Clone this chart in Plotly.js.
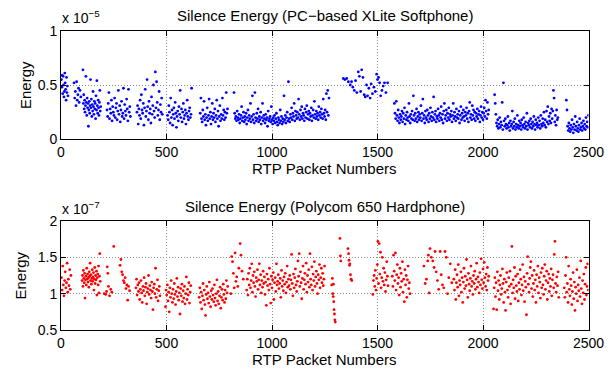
<!DOCTYPE html>
<html>
<head>
<meta charset="utf-8">
<script src="https://cdn.plot.ly/plotly-3.0.1.min.js"></script>
<style>html,body{margin:0;padding:0;background:#fff;}#chart{width:613px;height:371px;}</style>
</head>
<body>
<div id="chart"></div>
<script>
// ---- Data ----
// Softphone: RTP packet numbers and silence energy (in units of 1e-5)
const softX = [
2,4,6,8,10,12,14,16,18,20,22,24,26,28,30,33,
62,65,68,71,74,77,80,83,86,90,94,
104,106,108,110,112,114,116,118,120,122,124,126,128,130,132,134,136,138,140,142,144,146,148,150,152,154,156,158,160,162,164,166,168,170,172,174,176,178,180,182,184,186,188,
218,221,224,227,230,233,236,239,242,245,248,251,254,257,260,263,266,269,272,275,278,281,284,287,290,293,296,299,302,305,308,311,314,317,320,323,326,329,
360,363,366,369,372,375,378,381,384,387,390,393,396,399,402,405,408,411,414,417,420,423,426,429,432,435,438,441,444,447,450,453,456,459,462,465,468,471,474,477,480,
505,508,511,514,517,520,523,526,529,532,535,538,541,544,547,550,553,556,559,562,565,568,571,574,577,580,583,586,589,592,595,598,601,604,607,610,613,616,619,
660,663,666,669,672,675,678,681,684,687,690,693,696,699,702,705,708,711,714,717,720,723,726,729,732,735,738,741,744,747,750,753,756,759,762,765,768,771,774,777,780,783,786,789,
820,823,826,829,832,835,838,841,844,847,850,853,856,859,862,865,868,871,874,877,
880,883,886,889,892,895,898,901,904,907,910,913,916,919,922,925,928,931,934,937,
940,943,946,949,952,955,958,961,964,967,970,973,976,979,982,985,988,991,994,997,
1000,1003,1006,1009,1012,1015,1018,1021,1024,1027,1030,1033,1036,1039,1042,1045,1048,1051,1054,1057,
1060,1063,1066,1069,1072,1075,1078,1081,1084,1087,1090,1093,1096,1099,1102,1105,1108,1111,1114,1117,
1120,1123,1126,1129,1132,1135,1138,1141,1144,1147,1150,1153,1156,1159,1162,1165,1168,1171,1174,1177,
1180,1183,1186,1189,1192,1195,1198,1201,1204,1207,1210,1213,1216,1219,1222,1225,1228,1231,1234,1237,
1240,1243,1246,1249,1252,1255,1258,1261,1264,1267,1270,
1338,1345,1354,1362,1371,1377,1383,1390,1396,1402,1409,1414,1420,1425,1431,1437,1442,1448,1453,1459,1465,1470,1476,1483,1490,1496,1500,1505,1510,1515,1521,1527,1533,1540,1548,
1580,1583,1586,1589,1592,1595,1598,1601,1604,1607,1610,1613,1616,1619,1622,1625,1628,1631,1634,1637,
1640,1643,1646,1649,1652,1655,1658,1661,1664,1667,1670,1673,1676,1679,1682,1685,1688,1691,1694,1697,
1700,1703,1706,1709,1712,1715,1718,1721,1724,1727,1730,1733,1736,1739,1742,1745,1748,1751,1754,1757,
1760,1763,1766,1769,1772,1775,1778,1781,1784,1787,1790,1793,1796,1799,1802,1805,1808,1811,1814,1817,
1820,1823,1826,1829,1832,1835,1838,1841,1844,1847,1850,1853,1856,1859,1862,1865,1868,1871,1874,1877,
1880,1883,1886,1889,1892,1895,1898,1901,1904,1907,1910,1913,1916,1919,1922,1925,1928,1931,1934,1937,
1940,1943,1946,1949,1952,1955,1958,1961,1964,1967,1970,1973,1976,1979,1982,1985,1988,1991,1994,1997,
2000,2003,2006,2009,2012,2015,2018,2021,2024,2027,
2055,2058,2061,2064,2067,2070,2073,2076,2079,2082,2085,2088,2091,2094,2097,2100,2103,2106,2109,2112,
2115,2118,2121,2124,2127,2130,2133,2136,2139,2142,2145,2148,2151,2154,2157,2160,2163,2166,2169,2172,
2175,2178,2181,2184,2187,2190,2193,2196,2199,2202,2205,2208,2211,2214,2217,2220,2223,2226,2229,2232,
2235,2238,2241,2244,2247,2250,2253,2256,2259,2262,2265,2268,2271,2274,2277,2280,2283,2286,2289,2292,
2295,2298,2301,2304,2307,2310,2313,2316,2319,2322,2325,2328,2331,2334,2337,2340,2343,2346,2349,2352,2355,
2395,2398,2401,2404,2407,2410,2413,2416,2419,2422,2425,2428,2431,2434,2437,2440,2443,2446,2449,2452,2455,2458,2461,2464,2467,2470,2473,2476,2479,2482,2485,2488,2491,2494,2497,2500
];
const softY = [
.55,.48,.59,.42,.58,.50,.39,.44,.61,.52,.46,.36,.57,.43,.49,.40,
.52,.38,.44,.31,.53,.36,.41,.47,.34,.45,.39,
.64,.33,.41,.28,.36,.25,.31,.58,.34,.22,.38,.29,.33,.12,.27,.35,.24,.31,.55,.29,.37,.21,.32,.26,.44,.30,.23,.35,.28,.33,.19,.40,.27,.54,.31,.24,.36,.29,.22,.34,.45,.26,.30,
.27,.21,.33,.43,.19,.28,.24,.36,.17,.30,.25,.22,.38,.20,.29,.33,.18,.26,.45,.23,.31,.16,.27,.35,.21,.24,.47,.19,.32,.26,.22,.37,.28,.17,.46,.25,.30,.21,
.25,.31,.14,.28,.22,.36,.19,.41,.27,.24,.33,.13,.29,.46,.21,.26,.55,.30,.18,.35,.24,.28,.15,.39,.23,.31,.50,.26,.20,.62,.29,.53,.34,.22,.27,.44,.18,.32,.25,.38,.23,
.22,.18,.31,.25,.15,.38,.20,.27,.13,.23,.29,.19,.34,.24,.11,.21,.26,.17,.30,.23,.45,.20,.28,.16,.25,.33,.19,.22,.27,.14,.24,.36,.21,.18,.26,.29,.20,.23,.47,
.24,.38,.19,.16,.27,.21,.35,.18,.23,.13,.20,.29,.17,.22,.37,.19,.25,.14,.21,.33,.18,.24,.20,.28,.16,.22,.36,.19,.26,.12,.21,.31,.17,.23,.19,.38,.22,.27,.18,.25,.20,.43,.24,.28,
.43,.24,.19,.21,.17,.26,.20,.18,.23,.15,.19,.22,.30,.17,.20,.25,.16,.21,.18,.24,
.14,.20,.27,.17,.22,.19,.33,.16,.21,.40,.18,.23,.15,.43,.20,.17,.24,.19,.28,.16,
.21,.18,.25,.14,.20,.33,.17,.22,.19,.15,.23,.18,.20,.12,.26,.17,.19,.21,.16,.30,
.18,.14,.20,.17,.22,.15,.19,.24,.16,.13,.20,.18,.15,.27,.17,.21,.14,.19,.16,.40,
.18,.22,.15,.20,.25,.17,.53,.19,.16,.23,.20,.29,.18,.24,.21,.33,.17,.26,.22,.19,
.25,.20,.37,.23,.18,.27,.21,.30,.19,.24,.22,.17,.28,.20,.25,.31,.19,.23,.26,.18,
.24,.21,.29,.17,.22,.27,.20,.35,.23,.19,.26,.21,.24,.18,.30,.22,.25,.20,.28,.23,
.19,.37,.24,.21,.27,.18,.42,.25,.45,.22,.38,
.56,.55,.56,.53,.50,.53,.48,.45,.54,.43,.62,.58,.44,.64,.57,.41,.39,.50,.40,.47,.38,.51,.42,.48,.44,.60,.55,.57,.52,.40,.45,.49,.52,.43,.52,
.33,.24,.19,.35,.22,.17,.27,.20,.15,.23,.18,.21,.26,.16,.24,.19,.29,.14,.22,.18,
.25,.20,.17,.33,.21,.15,.23,.19,.26,.18,.40,.22,.17,.24,.19,.28,.16,.21,.25,.18,
.23,.20,.31,.17,.24,.37,.19,.22,.15,.26,.20,.18,.27,.22,.16,.24,.19,.29,.21,.17,
.25,.20,.39,.18,.23,.26,.16,.21,.19,.28,.22,.17,.24,.20,.30,.18,.23,.15,.26,.33,
.19,.22,.27,.17,.24,.20,.29,.18,.23,.21,.26,.16,.22,.33,.19,.25,.21,.17,.28,.20,
.23,.19,.26,.15,.22,.30,.18,.24,.20,.27,.21,.17,.25,.22,.29,.19,.24,.16,.26,.34,
.20,.23,.18,.31,.22,.27,.19,.25,.17,.24,.21,.28,.19,.23,.26,.16,.22,.30,.20,.25,
.18,.24,.29,.21,.36,.26,.19,.34,.23,.27,
.41,.33,.23,.15,.12,.18,.10,.14,.20,.11,.16,.13,.34,.09,.52,.17,.12,.19,.14,.10,
.13,.21,.11,.15,.08,.17,.12,.14,.26,.10,.16,.12,.19,.09,.14,.11,.22,.13,.10,.17,
.12,.15,.09,.18,.13,.11,.20,.14,.10,.16,.12,.24,.09,.15,.13,.17,.11,.19,.14,.10,
.16,.12,.21,.14,.09,.18,.13,.15,.11,.20,.13,.17,.10,.22,.14,.12,.19,.15,.25,.13,
.18,.11,.26,.16,.30,.14,.21,.17,.24,.15,.28,.19,.26,.45,.38,.16,.22,.13,.27,.18,.20,
.36,.27,.12,.08,.15,.10,.07,.13,.09,.18,.11,.06,.14,.09,.21,.12,.08,.16,.10,.07,.13,.19,.09,.11,.15,.08,.12,.17,.10,.14,.09,.20,.12,.16,.11,.22
];
// Hardphone: RTP packet numbers and silence energy (in units of 1e-7)
const hardX = [
2,5,8,11,14,17,20,23,26,29,32,35,38,41,44,47,
100,102,104,106,108,110,112,114,116,118,120,122,124,126,128,130,132,134,136,138,140,142,144,146,148,150,152,154,156,158,160,162,164,166,168,170,172,174,176,178,180,182,184,186,
205,212,216,219,222,225,230,236,241,250,
280,284,288,292,296,300,304,308,312,316,320,325,
355,358,361,364,367,370,373,376,379,382,385,388,391,394,397,400,403,406,409,412,415,418,421,424,427,430,433,436,439,442,445,448,451,454,457,460,463,466,469,
495,498,501,504,507,510,513,516,519,522,525,528,531,534,537,540,543,546,549,552,555,558,561,564,567,570,573,576,579,582,585,588,591,594,597,600,603,606,609,612,615,
655,658,661,664,667,670,673,676,679,682,685,688,691,694,697,700,703,706,709,712,715,718,721,724,727,730,733,736,739,742,745,748,751,754,757,760,763,766,769,772,775,778,781,784,787,790,
805,809,813,817,821,825,829,833,838,843,849,853,858,864,
880,883,886,889,892,895,898,901,904,907,910,913,916,919,922,925,928,931,934,937,
940,943,946,949,952,955,958,961,964,967,970,973,976,979,982,985,988,991,994,997,
1000,1003,1006,1009,1012,1015,1018,1021,1024,1027,1030,1033,1036,1039,1042,1045,1048,1051,1054,1057,
1060,1063,1066,1069,1072,1075,1078,1081,1084,1087,1090,1093,1096,1099,1102,1105,1108,1111,1114,1117,
1120,1123,1126,1129,1132,1135,1138,1141,1144,1147,1150,1153,1156,1159,1162,1165,1168,1171,1174,1177,
1180,1183,1186,1189,1192,1195,1198,1201,1204,1207,1210,1213,1216,1219,1222,1225,1228,1231,1234,1237,
1240,1243,1246,1249,
1283,1286,1288,1290,1291,1293,1294,1296,1298,1300,
1322,1324,1326,1360,1363,1365,1367,1369,1372,1375,1378,
1478,1481,1484,1487,1490,1493,1496,1499,1502,1505,1508,1511,1514,1517,1520,1523,1526,1529,1532,1535,1538,1541,1544,1547,1550,
1570,1573,1576,1579,1582,1585,1588,1591,1594,1597,1600,1603,1606,1609,1612,1615,1618,1621,1624,1627,1630,1633,1636,1639,1642,1645,1648,1651,1654,
1720,1726,1732,1738,1741,1745,1749,1755,1762,1768,1773,1778,1784,1790,1797,1802,1808,1814,1820,1826,1832,1838,1845,1852,
1862,1865,1868,1871,1874,1877,1880,1883,1886,1889,1892,1895,1898,1901,1904,1907,1910,1913,1916,1919,1922,1925,1928,1931,1934,1937,
1940,1943,1946,1949,1952,1955,1958,1961,1964,1967,1970,1973,1976,1979,1982,1985,1988,1991,1994,1997,2000,2003,2006,2009,2012,2015,2018,2021,2024,2027,
2050,2053,2056,2059,2062,2065,2068,2071,2074,2077,2080,2083,2086,2089,2092,2095,2098,2101,2104,2107,
2110,2113,2116,2119,2122,2125,2128,2131,2134,2137,2140,2143,2146,2149,2152,2155,2158,2161,2164,2167,
2170,2173,2176,2179,2182,2185,2188,2191,2194,2197,2200,2203,2206,2209,2212,2215,2218,2221,2224,2227,
2230,2233,2236,2239,2242,2245,2248,2251,2254,2257,2260,2263,2266,2269,2272,2275,2278,2281,2284,2287,
2290,2293,2296,2299,2302,2305,2308,2311,2314,2317,2320,2323,2326,2329,2332,2335,2338,2341,2344,2347,
2350,2353,2356,2359,
2385,2388,2391,2394,2397,2400,2403,2406,2409,2412,2415,2418,2421,2424,2427,2430,2433,2436,2439,2442,2445,2448,2451,2454,2457,2460,2463,2466,2469,2472,2475,2478,2481,2484,2487,2490,2493,2496,2499
];
const hardY = [
1.22,1.05,1.38,1.12,.97,1.18,1.30,1.08,1.15,1.42,1.02,1.20,1.11,1.33,1.06,1.25,
1.18,1.25,1.10,1.32,1.21,1.15,1.28,.94,1.19,1.24,1.12,1.35,1.20,1.27,1.16,1.22,1.09,1.30,1.24,1.42,1.18,1.26,1.13,1.21,1.33,1.17,1.23,1.29,1.05,1.20,1.36,1.14,1.25,1.19,1.31,.98,1.22,1.27,1.12,1.38,1.01,1.24,1.55,1.17,
1.00,.99,1.03,1.37,1.28,1.10,.97,1.06,1.02,1.65,
1.39,1.47,1.30,1.26,1.18,1.15,1.22,1.07,1.12,.91,1.10,1.04,
1.08,1.20,.98,1.12,1.03,1.15,.92,1.06,1.18,1.01,.88,1.10,1.04,1.22,.97,1.09,1.14,.86,1.02,1.07,1.25,.99,1.11,1.05,.94,1.16,1.03,.78,1.08,1.13,1.00,1.35,.95,1.06,1.19,.90,1.04,1.10,.97,
.82,1.05,.98,1.12,.90,1.02,.75,1.08,.95,1.18,1.00,.88,1.06,.93,1.14,.99,.85,1.03,1.21,.96,1.09,.91,1.01,.72,1.07,.97,1.13,.89,1.04,.94,1.10,.86,1.00,1.23,.92,1.06,.98,1.15,.87,1.02,1.11,
.95,1.08,.88,1.02,.79,.97,1.14,.91,1.05,.85,.70,.99,1.10,.93,1.01,.87,1.16,.96,.82,1.04,.92,1.07,.98,.89,1.12,.94,.84,1.00,1.19,.90,1.03,.86,.97,1.09,.80,.95,1.06,.91,1.13,.99,.88,1.05,.93,1.18,1.01,1.10,
1.00,1.51,1.44,1.28,1.08,1.56,1.17,1.23,1.10,1.35,1.69,1.53,1.31,1.20,
1.05,1.20,.98,1.28,1.12,1.35,1.08,1.18,1.41,1.02,1.25,1.15,1.30,1.10,.96,1.22,1.17,1.33,1.06,1.19,
1.41,1.12,1.26,1.01,1.18,1.09,1.31,1.14,1.23,.99,1.16,.84,1.27,1.11,1.20,1.05,1.35,1.13,.87,1.24,
1.08,1.19,1.29,.92,1.15,1.22,1.03,1.41,1.12,1.17,1.26,1.07,1.14,1.21,.95,1.32,1.10,1.18,1.04,1.23,
1.13,1.28,1.01,1.16,1.38,1.09,1.20,1.11,1.25,1.06,1.19,1.54,1.14,.97,1.27,1.08,1.22,1.34,1.12,1.03,
1.17,1.45,1.24,1.55,1.10,1.30,1.15,.93,1.21,1.38,1.06,1.19,1.28,1.13,1.42,1.02,1.25,1.16,1.33,1.09,
1.55,1.20,1.12,1.37,1.05,1.27,1.18,1.44,1.10,1.23,1.31,1.14,1.00,1.26,1.19,1.40,1.08,1.22,1.35,1.15,
1.28,1.11,1.20,1.38,
1.12,1.21,1.00,.96,1.13,.89,.78,.72,.64,.61,
1.76,1.52,1.45,1.62,1.55,1.46,1.39,1.41,1.26,1.20,1.18,
.99,1.18,1.25,1.10,1.32,1.05,1.21,1.40,1.72,1.14,1.69,1.27,1.57,1.08,1.22,1.50,1.17,1.35,1.12,1.29,1.03,1.19,1.44,1.24,1.11,
1.24,1.10,1.53,1.31,1.18,1.56,1.05,1.26,1.40,1.14,1.22,.98,1.35,1.09,1.28,1.17,1.44,1.02,1.20,.89,1.33,1.12,1.25,.95,1.19,1.38,1.07,1.15,1.00,
1.38,1.14,1.20,1.45,1.53,1.01,1.62,1.50,1.45,1.36,1.58,1.30,1.18,1.06,1.58,1.26,1.12,1.08,1.58,1.50,1.00,1.22,1.41,1.15,
1.20,1.05,1.33,.92,1.15,1.26,1.09,1.40,.97,1.18,1.12,1.30,1.02,1.22,.88,1.16,1.35,1.07,1.24,1.11,1.47,1.19,.95,1.28,1.13,1.04,
1.21,1.38,1.10,1.17,.99,1.25,1.14,1.31,1.06,1.20,1.42,1.09,1.23,1.16,1.01,1.29,1.12,1.48,1.19,1.07,1.34,1.15,1.43,1.22,1.10,1.27,1.05,1.36,1.18,1.24,
.79,1.08,1.22,.96,1.15,.78,1.30,1.04,1.18,.92,1.12,1.25,.99,1.07,1.34,1.14,.88,1.20,1.02,.77,
1.16,1.29,1.05,.95,1.22,1.10,1.31,.86,1.13,1.65,1.01,1.19,1.08,1.36,.93,1.24,1.11,1.03,1.27,.90,
1.15,1.06,1.33,1.20,.98,1.12,1.40,1.04,1.23,.89,1.17,1.09,.71,1.28,1.51,1.13,1.02,1.21,1.36,1.44,
1.07,1.25,.96,1.14,1.32,1.05,1.19,.88,1.26,1.10,1.38,1.01,1.22,1.16,.94,1.29,1.08,1.35,1.12,.99,
1.24,1.40,1.06,1.18,1.31,.92,1.15,1.27,1.03,1.21,1.10,1.34,.97,1.19,1.26,1.08,1.54,1.72,1.14,1.02,
1.23,1.11,1.30,.95,
1.08,.95,1.25,1.50,1.02,1.14,.88,1.38,1.06,.97,1.20,1.11,.85,1.03,1.29,.93,1.16,.77,1.09,1.00,1.33,.90,1.12,1.04,1.22,.96,1.45,1.07,.86,1.18,1.01,1.27,.92,1.13,1.36,.98,1.10,1.41,1.05
];
const xTicks = [0, 500, 1000, 1500, 2000, 2500];
const softYTicks = [0, 0.5, 1];
const hardYTicks = [0.5, 1, 1.5, 2];
const plotTitles = ['Silence Energy (PC\u2212based XLite Softphone)', 'Silence Energy (Polycom 650 Hardphone)'];
const xLabel = 'RTP Packet Numbers';
const yLabel = 'Energy';
const exponents = ['\u22125', '\u22127'];

// ---- Layout ----
const W = 613, H = 371;
const FONT = 'Liberation Sans, Arial, Helvetica, sans-serif';
const px = v => v / W;
const py = v => 1 - v / H;

function axisBase() {
  return {
    ticks: 'inside', ticklen: 5, tickcolor: '#000', tickwidth: 1,
    showline: true, linecolor: '#000', linewidth: 1, mirror: 'ticks',
    showgrid: true, gridcolor: '#8c8c8c', griddash: '1px,2px', gridwidth: 1,
    zeroline: false, tickfont: {family: FONT, size: 14, color: '#000'}, automargin: false
  };
}
function xAxis(anchor, dom) {
  return Object.assign(axisBase(), {domain: dom, anchor: anchor, range: [0, 2500], tickvals: xTicks});
}
function yAxis(anchor, dom, rng, tv) {
  return Object.assign(axisBase(), {domain: dom, anchor: anchor, range: rng, tickvals: tv});
}

const xDom = [px(61), px(588.5)];
const topDom = [py(139.3), py(30.7)];
const botDom = [py(330), py(221)];

const traces = [
  {x: softX, y: softY, type: 'scatter', mode: 'markers', xaxis: 'x', yaxis: 'y',
   marker: {color: '#0000ff', size: 2.8, line: {width: 0}}, hoverinfo: 'skip'},
  {x: hardX, y: hardY, type: 'scatter', mode: 'markers', xaxis: 'x2', yaxis: 'y2',
   marker: {color: '#ff0000', size: 2.8, line: {width: 0}}, hoverinfo: 'skip'}
];

function ann(text, x, y, opts) {
  return Object.assign({text: text, x: x, y: y, xref: 'paper', yref: 'paper', showarrow: false,
    xanchor: 'center', yanchor: 'middle', font: {family: FONT, size: 15, color: '#000'}}, opts || {});
}

const layout = {
  width: W, height: H, margin: {l: 0, r: 0, t: 0, b: 0}, showlegend: false,
  paper_bgcolor: '#fff', plot_bgcolor: '#fff',
  xaxis: xAxis('y', xDom), yaxis: yAxis('x', topDom, [0, 1], softYTicks),
  xaxis2: xAxis('y2', xDom), yaxis2: yAxis('x2', botDom, [0.5, 2], hardYTicks),
  annotations: [
    ann(plotTitles[0], px(324.75), py(15)),
    ann(xLabel, px(324.75), py(168)),
    ann(yLabel, px(25), py(85), {textangle: -90}),
    ann('x 10<sup>' + exponents[0] + '</sup>', px(60), py(28), {xanchor: 'left', yanchor: 'bottom', font: {family: FONT, size: 14, color: '#000'}}),
    ann(plotTitles[1], px(324.75), py(206)),
    ann(xLabel, px(324.75), py(359)),
    ann(yLabel, px(20), py(275.5), {textangle: -90}),
    ann('x 10<sup>' + exponents[1] + '</sup>', px(60), py(219), {xanchor: 'left', yanchor: 'bottom', font: {family: FONT, size: 14, color: '#000'}})
  ]
};

Plotly.newPlot('chart', traces, layout, {staticPlot: true, displayModeBar: false});
</script>
</body>
</html>
